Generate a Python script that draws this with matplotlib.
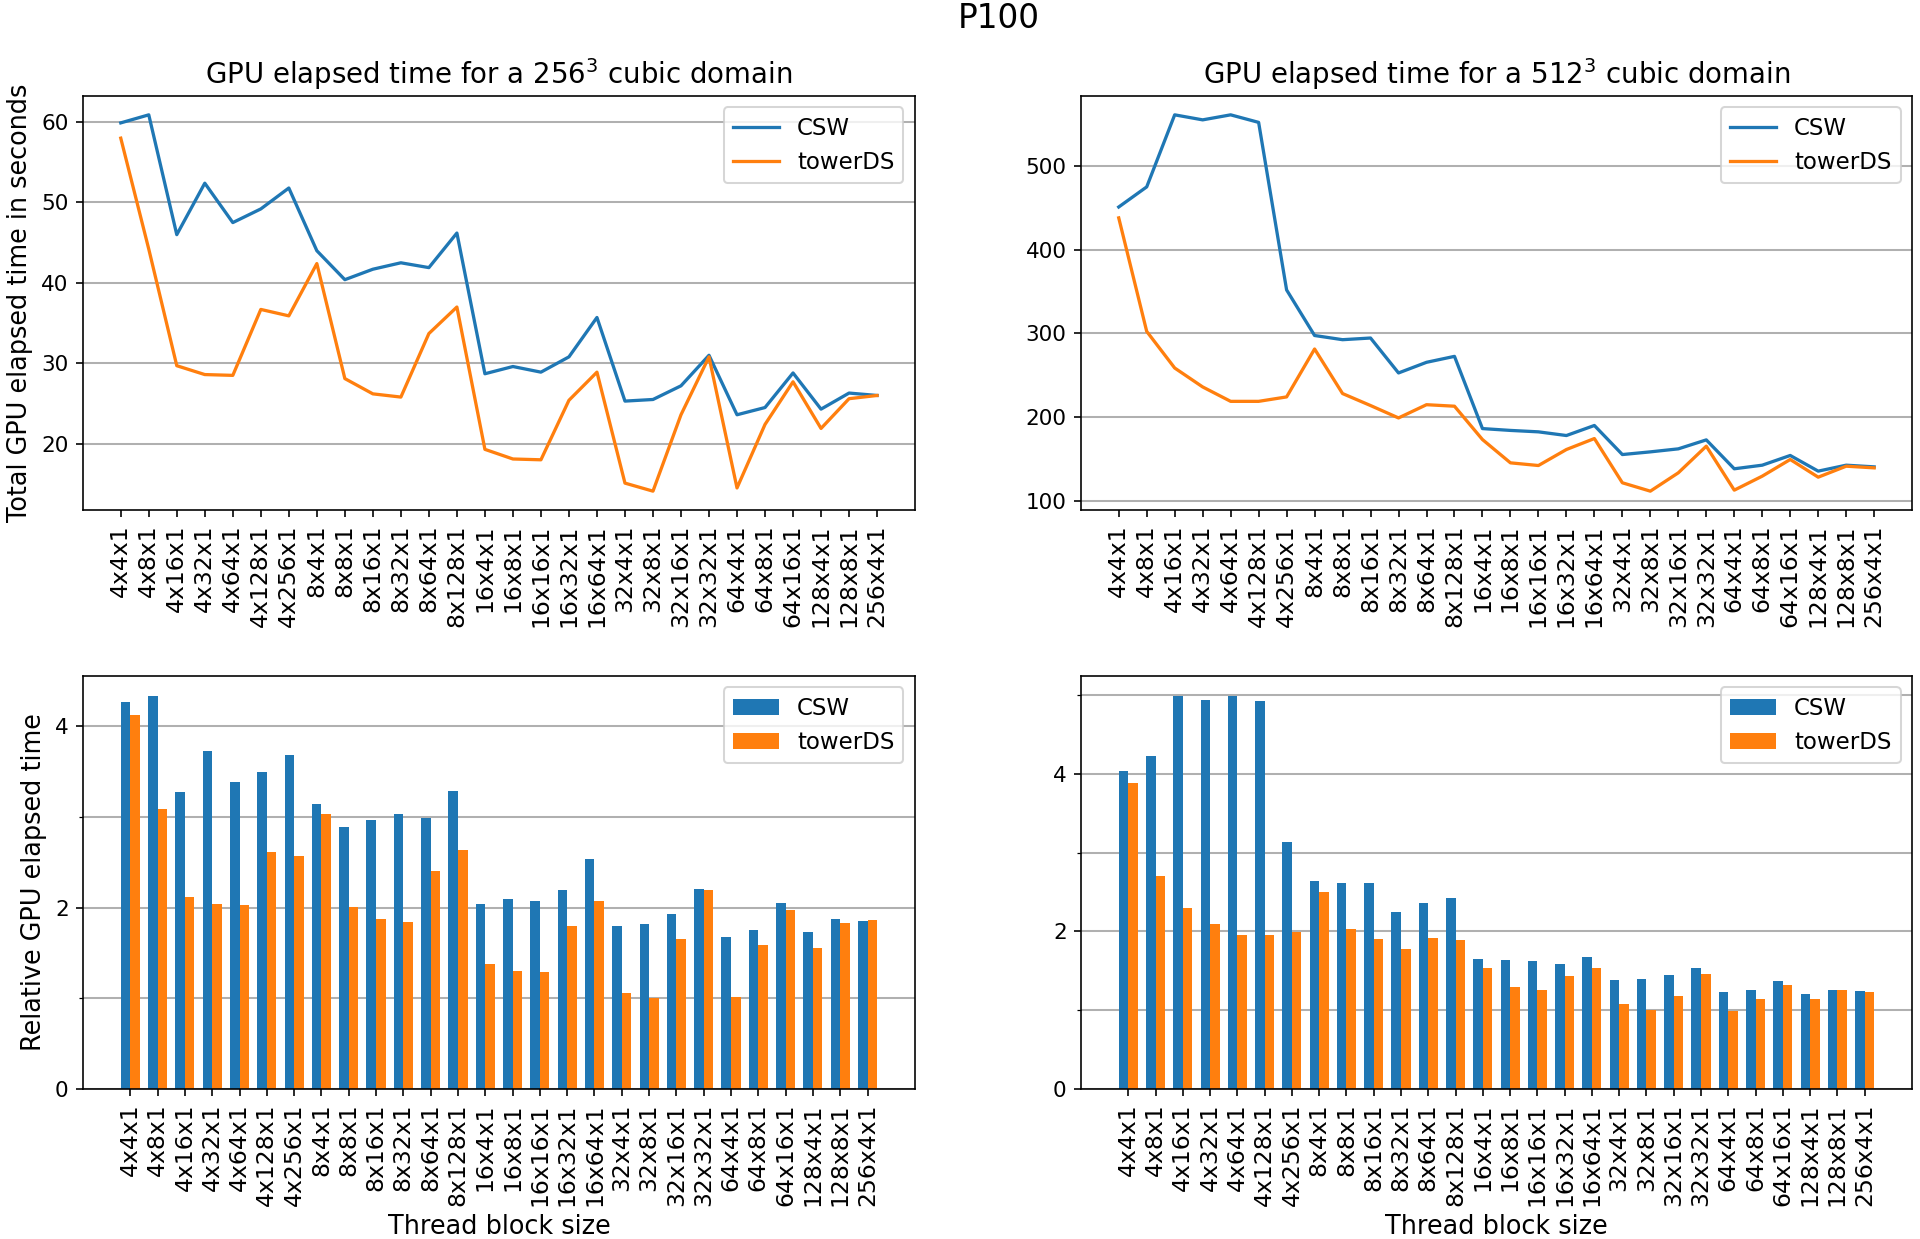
import numpy as np
import matplotlib
matplotlib.use("Agg")
import matplotlib.pyplot as plt
from matplotlib.ticker import MultipleLocator

blocks = ["4x4x1", "4x8x1", "4x16x1", "4x32x1", "4x64x1", "4x128x1", "4x256x1",
          "8x4x1", "8x8x1", "8x16x1", "8x32x1", "8x64x1", "8x128x1",
          "16x4x1", "16x8x1", "16x16x1", "16x32x1", "16x64x1",
          "32x4x1", "32x8x1", "32x16x1", "32x32x1",
          "64x4x1", "64x8x1", "64x16x1", "128x4x1", "128x8x1", "256x4x1"]

# elapsed time in seconds, 256^3 domain
csw_256 = [59.9, 60.9, 46.0, 52.4, 47.5, 49.2, 51.8, 44.0, 40.4, 41.7, 42.5, 41.9, 46.2,
           28.7, 29.6, 28.9, 30.8, 35.7, 25.3, 25.5, 27.2, 31.0,
           23.6, 24.5, 28.8, 24.3, 26.3, 26.0]
tower_256 = [58.0, 44.2, 29.7, 28.6, 28.5, 36.7, 35.9, 42.4, 28.1, 26.2, 25.8, 33.7, 37.0,
             19.3, 18.1, 18.0, 25.4, 28.9, 15.1, 14.1, 23.6, 30.8,
             14.5, 22.4, 27.7, 21.9, 25.6, 26.0]

# elapsed time in seconds, 512^3 domain
csw_512 = [451, 475, 561, 555, 561, 552, 352, 297.6, 292.6, 294.6, 252.9, 265.6, 272.7,
           186.5, 184.3, 182.6, 178.2, 190.2, 155.5, 158.7, 162.3, 173.0,
           138.5, 142.8, 154.4, 135.7, 142.8, 140.8]
tower_512 = [438, 302.5, 258.8, 236.2, 219, 219, 224.3, 281.5, 228.3, 214, 199.2, 215, 213.2,
             173.4, 145.6, 142.4, 161.5, 174.6, 121.8, 111.8, 133.7, 165.5,
             113.0, 129.7, 149.6, 128.5, 141.6, 139.6]

# relative elapsed time
rel_csw_256 = [4.27, 4.34, 3.28, 3.73, 3.39, 3.50, 3.68, 3.14, 2.89, 2.97, 3.03, 2.99, 3.29,
               2.04, 2.10, 2.07, 2.20, 2.54, 1.80, 1.82, 1.93, 2.21,
               1.68, 1.75, 2.05, 1.73, 1.87, 1.85]
rel_tower_256 = [4.13, 3.09, 2.12, 2.04, 2.03, 2.62, 2.57, 3.03, 2.01, 1.87, 1.84, 2.40, 2.64,
                 1.38, 1.30, 1.29, 1.80, 2.07, 1.06, 1.00, 1.66, 2.20,
                 1.02, 1.59, 1.97, 1.56, 1.83, 1.86]
rel_csw_512 = [4.03, 4.23, 4.99, 4.94, 4.99, 4.92, 3.13, 2.64, 2.61, 2.61, 2.25, 2.36, 2.42,
               1.65, 1.63, 1.62, 1.58, 1.68, 1.38, 1.40, 1.44, 1.53,
               1.23, 1.26, 1.37, 1.21, 1.26, 1.24]
rel_tower_512 = [3.88, 2.70, 2.30, 2.09, 1.95, 1.95, 1.99, 2.50, 2.03, 1.90, 1.77, 1.91, 1.89,
                 1.53, 1.29, 1.26, 1.43, 1.54, 1.08, 1.00, 1.18, 1.46,
                 0.99, 1.14, 1.32, 1.14, 1.25, 1.23]

dpi = 147
fig = plt.figure(figsize=(1920 / dpi, 1239 / dpi), dpi=dpi)

ax1 = fig.add_axes([0.0432, 0.5884, 0.4333, 0.3341])
ax2 = fig.add_axes([0.5630, 0.5884, 0.4328, 0.3341])
ax3 = fig.add_axes([0.0432, 0.1211, 0.4333, 0.3333])
ax4 = fig.add_axes([0.5630, 0.1211, 0.4328, 0.3333])

x = np.arange(len(blocks))
w = 0.35

# line plots
ax1.plot(x, csw_256, label="CSW", linewidth=1.6)
ax1.plot(x, tower_256, label="towerDS", linewidth=1.6)
ax1.set_title("GPU elapsed time for a 256$^3$ cubic domain", fontsize=13.5)
ax1.set_ylabel("Total GPU elapsed time in seconds", fontsize=12.5)

ax2.plot(x, csw_512, label="CSW", linewidth=1.6)
ax2.plot(x, tower_512, label="towerDS", linewidth=1.6)
ax2.set_title("GPU elapsed time for a 512$^3$ cubic domain", fontsize=13.5)

# bar plots
ax3.bar(x - w / 2, rel_csw_256, w, label="CSW")
ax3.bar(x + w / 2, rel_tower_256, w, label="towerDS")
ax3.set_ylabel("Relative GPU elapsed time", fontsize=12.5)
ax3.set_xlabel("Thread block size", fontsize=12.5)

ax4.bar(x - w / 2, rel_csw_512, w, label="CSW")
ax4.bar(x + w / 2, rel_tower_512, w, label="towerDS")
ax4.set_xlabel("Thread block size", fontsize=12.5)

for ax in [ax3, ax4]:
    ax.yaxis.set_major_locator(MultipleLocator(2))
    ax.yaxis.set_minor_locator(MultipleLocator(1))
    ax.grid(axis="y", which="both", color="#b0b0b0", linewidth=1.0)

for ax in [ax1, ax2]:
    ax.grid(axis="y", color="#b0b0b0", linewidth=1.0)

for ax in [ax1, ax2, ax3, ax4]:
    ax.set_axisbelow(True)
    ax.set_xticks(x)
    ax.set_xticklabels(blocks, rotation=90, fontsize=11.5)
    ax.tick_params(axis="y", labelsize=10.5)
    ax.legend(loc="upper right", fontsize=11.2)

fig.suptitle("P100", fontsize=16, x=0.52, y=1 - 18.5 / 1239, va="center")

fig.savefig("out.png", dpi=dpi)
